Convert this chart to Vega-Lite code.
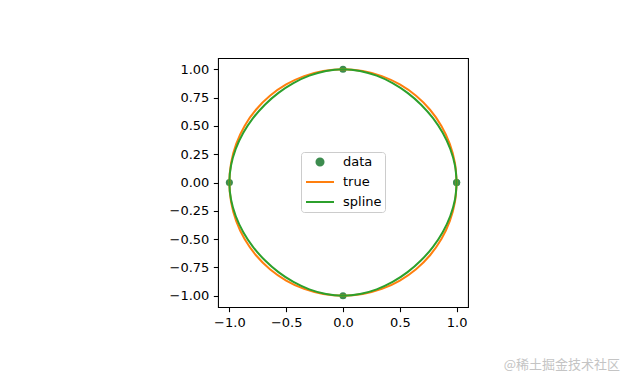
{
  "$schema": "https://vega.github.io/schema/vega-lite/v6.json",
  "width": 250,
  "height": 249,
  "autosize": {"type": "none"},
  "padding": {"left": 218, "top": 58, "right": 156, "bottom": 77},
  "background": "white",
  "config": {
    "font": "DejaVu Sans",
    "view": {"stroke": "#000000", "strokeWidth": 1.07},
    "axis": {"grid": false, "domain": false, "tickColor": "#000000", "tickWidth": 1.07, "tickSize": 4.67, "labelPadding": 4.5, "labelFont": "DejaVu Sans", "labelFontSize": 13, "labelColor": "#000000", "title": null}
  },
  "title": {"text": "@稀土掘金技术社区", "orient": "bottom", "anchor": "end", "frame": "group", "dx": 152, "offset": 30, "font": "Noto Sans CJK SC", "fontSize": 13, "fontWeight": "normal", "color": "#c4c4c4"},
  "datasets": {
    "pts": [
      {"i": 0, "x": 1, "y": 0, "series": "data"},
      {"i": 1, "x": 0, "y": 1, "series": "data"},
      {"i": 2, "x": -1, "y": 0, "series": "data"},
      {"i": 3, "x": 0, "y": -1, "series": "data"},
      {"i": 4, "x": 1, "y": 0, "series": "data"}
    ],
    "circle": [
      {"i": 0, "x": 1, "y": 0, "series": "true"},
      {"i": 1, "x": 0.9848, "y": 0.1736, "series": "true"},
      {"i": 2, "x": 0.9397, "y": 0.342, "series": "true"},
      {"i": 3, "x": 0.866, "y": 0.5, "series": "true"},
      {"i": 4, "x": 0.766, "y": 0.6428, "series": "true"},
      {"i": 5, "x": 0.6428, "y": 0.766, "series": "true"},
      {"i": 6, "x": 0.5, "y": 0.866, "series": "true"},
      {"i": 7, "x": 0.342, "y": 0.9397, "series": "true"},
      {"i": 8, "x": 0.1736, "y": 0.9848, "series": "true"},
      {"i": 9, "x": 0, "y": 1, "series": "true"},
      {"i": 10, "x": -0.1736, "y": 0.9848, "series": "true"},
      {"i": 11, "x": -0.342, "y": 0.9397, "series": "true"},
      {"i": 12, "x": -0.5, "y": 0.866, "series": "true"},
      {"i": 13, "x": -0.6428, "y": 0.766, "series": "true"},
      {"i": 14, "x": -0.766, "y": 0.6428, "series": "true"},
      {"i": 15, "x": -0.866, "y": 0.5, "series": "true"},
      {"i": 16, "x": -0.9397, "y": 0.342, "series": "true"},
      {"i": 17, "x": -0.9848, "y": 0.1736, "series": "true"},
      {"i": 18, "x": -1, "y": 0, "series": "true"},
      {"i": 19, "x": -0.9848, "y": -0.1736, "series": "true"},
      {"i": 20, "x": -0.9397, "y": -0.342, "series": "true"},
      {"i": 21, "x": -0.866, "y": -0.5, "series": "true"},
      {"i": 22, "x": -0.766, "y": -0.6428, "series": "true"},
      {"i": 23, "x": -0.6428, "y": -0.766, "series": "true"},
      {"i": 24, "x": -0.5, "y": -0.866, "series": "true"},
      {"i": 25, "x": -0.342, "y": -0.9397, "series": "true"},
      {"i": 26, "x": -0.1736, "y": -0.9848, "series": "true"},
      {"i": 27, "x": 0, "y": -1, "series": "true"},
      {"i": 28, "x": 0.1736, "y": -0.9848, "series": "true"},
      {"i": 29, "x": 0.342, "y": -0.9397, "series": "true"},
      {"i": 30, "x": 0.5, "y": -0.866, "series": "true"},
      {"i": 31, "x": 0.6428, "y": -0.766, "series": "true"},
      {"i": 32, "x": 0.766, "y": -0.6428, "series": "true"},
      {"i": 33, "x": 0.866, "y": -0.5, "series": "true"},
      {"i": 34, "x": 0.9397, "y": -0.342, "series": "true"},
      {"i": 35, "x": 0.9848, "y": -0.1736, "series": "true"},
      {"i": 36, "x": 1, "y": 0, "series": "true"}
    ],
    "spline": [
      {"i": 0, "x": 1, "y": 0, "series": "spline"},
      {"i": 1, "x": 0.9855, "y": 0.1495, "series": "spline"},
      {"i": 2, "x": 0.944, "y": 0.296, "series": "spline"},
      {"i": 3, "x": 0.8785, "y": 0.4365, "series": "spline"},
      {"i": 4, "x": 0.792, "y": 0.568, "series": "spline"},
      {"i": 5, "x": 0.6875, "y": 0.6875, "series": "spline"},
      {"i": 6, "x": 0.568, "y": 0.792, "series": "spline"},
      {"i": 7, "x": 0.4365, "y": 0.8785, "series": "spline"},
      {"i": 8, "x": 0.296, "y": 0.944, "series": "spline"},
      {"i": 9, "x": 0.1495, "y": 0.9855, "series": "spline"},
      {"i": 10, "x": 0, "y": 1, "series": "spline"},
      {"i": 11, "x": -0.1495, "y": 0.9855, "series": "spline"},
      {"i": 12, "x": -0.296, "y": 0.944, "series": "spline"},
      {"i": 13, "x": -0.4365, "y": 0.8785, "series": "spline"},
      {"i": 14, "x": -0.568, "y": 0.792, "series": "spline"},
      {"i": 15, "x": -0.6875, "y": 0.6875, "series": "spline"},
      {"i": 16, "x": -0.792, "y": 0.568, "series": "spline"},
      {"i": 17, "x": -0.8785, "y": 0.4365, "series": "spline"},
      {"i": 18, "x": -0.944, "y": 0.296, "series": "spline"},
      {"i": 19, "x": -0.9855, "y": 0.1495, "series": "spline"},
      {"i": 20, "x": -1, "y": 0, "series": "spline"},
      {"i": 21, "x": -0.9855, "y": -0.1495, "series": "spline"},
      {"i": 22, "x": -0.944, "y": -0.296, "series": "spline"},
      {"i": 23, "x": -0.8785, "y": -0.4365, "series": "spline"},
      {"i": 24, "x": -0.792, "y": -0.568, "series": "spline"},
      {"i": 25, "x": -0.6875, "y": -0.6875, "series": "spline"},
      {"i": 26, "x": -0.568, "y": -0.792, "series": "spline"},
      {"i": 27, "x": -0.4365, "y": -0.8785, "series": "spline"},
      {"i": 28, "x": -0.296, "y": -0.944, "series": "spline"},
      {"i": 29, "x": -0.1495, "y": -0.9855, "series": "spline"},
      {"i": 30, "x": 0, "y": -1, "series": "spline"},
      {"i": 31, "x": 0.1495, "y": -0.9855, "series": "spline"},
      {"i": 32, "x": 0.296, "y": -0.944, "series": "spline"},
      {"i": 33, "x": 0.4365, "y": -0.8785, "series": "spline"},
      {"i": 34, "x": 0.568, "y": -0.792, "series": "spline"},
      {"i": 35, "x": 0.6875, "y": -0.6875, "series": "spline"},
      {"i": 36, "x": 0.792, "y": -0.568, "series": "spline"},
      {"i": 37, "x": 0.8785, "y": -0.4365, "series": "spline"},
      {"i": 38, "x": 0.944, "y": -0.296, "series": "spline"},
      {"i": 39, "x": 0.9855, "y": -0.1495, "series": "spline"},
      {"i": 40, "x": 1, "y": 0, "series": "spline"}
    ]
  },
  "encoding": {
    "x": {"field": "x", "type": "quantitative", "scale": {"domain": [-1.1, 1.1], "nice": false, "zero": false}, "axis": {"values": [-1, -0.5, 0, 0.5, 1], "format": ".1f"}},
    "y": {"field": "y", "type": "quantitative", "scale": {"domain": [-1.1, 1.1], "nice": false, "zero": false}, "axis": {"values": [-1, -0.75, -0.5, -0.25, 0, 0.25, 0.5, 0.75, 1], "format": ".2f"}},
    "color": {
      "field": "series", "type": "nominal",
      "scale": {"domain": ["data", "true", "spline"], "range": ["#3d8c4f", "#ff7f0e", "#2ca02c"]},
      "legend": {
        "orient": "none", "legendX": 83, "legendY": 94, "title": null,
        "padding": 3, "strokeColor": "#cccccc", "fillColor": "#ffffff", "cornerRadius": 3,
        "labelFont": "DejaVu Sans", "labelFontSize": 13, "labelColor": "#000000", "labelOffset": 9,
        "symbolSize": 196, "symbolOffset": 0, "symbolStrokeWidth": 2, "rowPadding": 6, "clipHeight": 14,
        "encode": {"symbols": {"update": {
          "x": {"value": 16},
          "shape": {"signal": "datum.value === 'data' ? 'circle' : 'stroke'"},
          "size": {"signal": "datum.value === 'data' ? 50 : 784"},
          "fill": {"signal": "datum.value === 'data' ? '#3d8c4f' : 'transparent'"},
          "stroke": {"signal": "datum.value === 'data' ? 'transparent' : (datum.value === 'true' ? '#ff7f0e' : '#2ca02c')"},
          "strokeWidth": {"value": 2},
          "opacity": {"value": 1}
        }}}
      }
    }
  },
  "layer": [
    {"data": {"name": "pts"}, "mark": {"type": "point", "filled": true, "size": 50, "opacity": 1}},
    {"data": {"name": "circle"}, "mark": {"type": "line", "strokeWidth": 2, "interpolate": "catmull-rom"}, "encoding": {"order": {"field": "i", "type": "quantitative"}}},
    {"data": {"name": "spline"}, "mark": {"type": "line", "strokeWidth": 2, "interpolate": "catmull-rom"}, "encoding": {"order": {"field": "i", "type": "quantitative"}}}
  ]
}
